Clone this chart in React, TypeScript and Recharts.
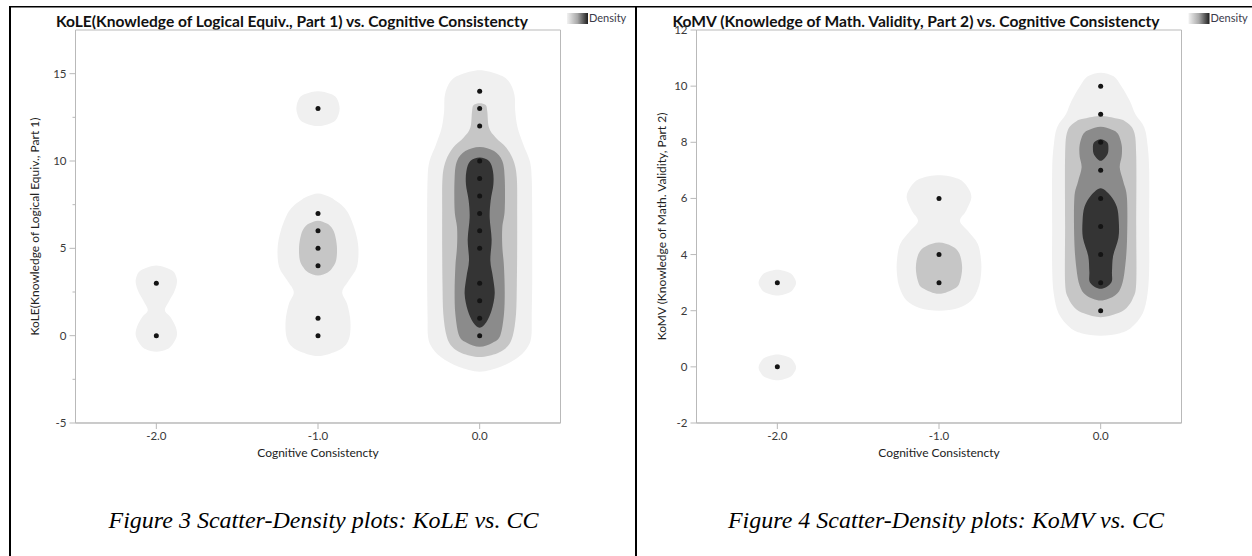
import React from "react";
import { ScatterChart, Scatter, XAxis, YAxis, ReferenceArea } from "recharts";

// cognitive consistency values on the x axis
const ccTicks = [-2, -1, 0];

// KoLE (part 1) scores seen at each CC value
const koleAtCcMinus2 = [3, 0];
const koleAtCcMinus1 = [13, 7, 6, 5, 4, 1, 0];
const koleAtCc0 = [14, 13, 12, 10, 9, 8, 7, 6, 5, 3, 2, 1, 0];

// KoMV (part 2) scores seen at each CC value
const komvAtCcMinus2 = [3, 0];
const komvAtCcMinus1 = [6, 4, 3];
const komvAtCc0 = [10, 9, 8, 7, 6, 5, 4, 3, 2];

const koleTicks = [-5, -2.5, 0, 2.5, 5, 7.5, 10, 12.5, 15];
const komvTicks = [-2, 0, 2, 4, 6, 8, 10, 12];

// density contours: [score, half width in CC units], top to bottom
const koleM2Outer = [[4.02, 0], [3.75, 0.095], [3.4, 0.122], [3.0, 0.127], [2.5, 0.11], [2.0, 0.08], [1.45, 0.053], [1.05, 0.088], [0.5, 0.12], [0, 0.127], [-0.5, 0.1], [-0.78, 0.065], [-0.92, 0]];
const koleM1Top = [[14.0, 0], [13.85, 0.075], [13.6, 0.115], [13.0, 0.134], [12.4, 0.115], [12.15, 0.075], [12.0, 0]];
const koleM1Outer = [[8.14, 0], [7.95, 0.07], [7.72, 0.11], [7.4, 0.155], [6.96, 0.19], [6.0, 0.23], [5.0, 0.25], [3.92, 0.24], [3.16, 0.19], [2.5, 0.15], [1.83, 0.18], [0.88, 0.2], [-0.07, 0.195], [-0.64, 0.16], [-0.95, 0.1], [-1.17, 0]];
const koleM1Mid = [[6.58, 0], [6.42, 0.055], [6.2, 0.083], [5.8, 0.104], [5.1, 0.117], [4.35, 0.113], [3.9, 0.09], [3.62, 0.06], [3.45, 0]];
const kole0Outer = [[15.2, 0], [14.94, 0.12], [14.56, 0.18], [13.8, 0.215], [12.85, 0.22], [11.9, 0.235], [10.95, 0.27], [10.0, 0.31], [9.0, 0.322], [7, 0.325], [5, 0.325], [3, 0.325], [1, 0.322], [0, 0.32], [-0.6, 0.3], [-1.22, 0.24], [-1.78, 0.13], [-2.06, 0]];
const kole0Mid = [[13.3, 0], [13.2, 0.037], [12.85, 0.047], [11.9, 0.058], [11.33, 0.1], [10.76, 0.165], [10.0, 0.21], [9.0, 0.23], [7, 0.232], [5, 0.232], [3, 0.23], [1.26, 0.225], [0, 0.205], [-0.64, 0.17], [-1.0, 0.11], [-1.22, 0]];
const kole0High = [[10.8, 0], [10.57, 0.089], [10.0, 0.14], [9.0, 0.155], [7.2, 0.155], [6.2, 0.14], [5.1, 0.14], [4.0, 0.15], [2.5, 0.155], [1.2, 0.15], [0, 0.127], [-0.4, 0.08], [-0.64, 0]];
const kole0Peak = [[10.2, 0], [10.0, 0.058], [9.43, 0.082], [8.67, 0.085], [7.72, 0.068], [6.77, 0.062], [5.5, 0.074], [4.3, 0.066], [3.35, 0.082], [2.4, 0.093], [1.45, 0.074], [0.75, 0.04], [0.45, 0]];

const komvM2Upper = [[3.46, 0], [3.35, 0.075], [3.2, 0.102], [3.0, 0.116], [2.8, 0.102], [2.65, 0.075], [2.54, 0]];
const komvM2Lower = [[0.44, 0], [0.33, 0.075], [0.18, 0.102], [-0.02, 0.116], [-0.22, 0.102], [-0.37, 0.075], [-0.48, 0]];
const komvM1Outer = [[6.83, 0], [6.7, 0.12], [6.39, 0.178], [6.03, 0.2], [5.56, 0.168], [5.2, 0.13], [4.85, 0.178], [4.38, 0.24], [3.8, 0.26], [3.3, 0.26], [2.83, 0.244], [2.36, 0.2], [2.1, 0.12], [2.0, 0]];
const komvM1Mid = [[4.43, 0], [4.3, 0.08], [4.05, 0.125], [3.55, 0.143], [3.05, 0.13], [2.8, 0.1], [2.6, 0]];
const komv0Outer = [[10.48, 0], [10.35, 0.08], [10.0, 0.128], [9.48, 0.18], [9.0, 0.215], [8.53, 0.27], [7.9, 0.29], [7, 0.3], [5, 0.3], [3.5, 0.3], [2.6, 0.29], [1.9, 0.26], [1.4, 0.19], [1.2, 0.12], [1.11, 0]];
const komv0Mid = [[8.94, 0], [8.85, 0.1], [8.75, 0.15], [8.4, 0.205], [7.5, 0.22], [5, 0.22], [3, 0.22], [2.45, 0.2], [2.1, 0.16], [1.9, 0.1], [1.77, 0]];
const komv0High = [[8.55, 0], [8.45, 0.07], [8.3, 0.107], [7.9, 0.13], [7.5, 0.13], [7.1, 0.118], [6.6, 0.14], [6.0, 0.163], [4.5, 0.163], [3.5, 0.15], [2.9, 0.13], [2.55, 0.09], [2.36, 0]];
const komv0PeakUpper = [[8.11, 0], [8.0, 0.04], [7.8, 0.048], [7.55, 0.04], [7.34, 0]];
const komv0PeakLower = [[6.36, 0], [6.1, 0.06], [5.7, 0.1], [5.2, 0.112], [4.6, 0.11], [3.95, 0.077], [3.4, 0.07], [3.0, 0.065], [2.78, 0]];

const densityShades = ["#f0f0f0", "#c6c6c6", "#8b8b8b", "#343434"];

type Contour = { cc: number; level: number; profile: number[][] };

const koleContours: Contour[] = [
  { cc: -2, level: 0, profile: koleM2Outer },
  { cc: -1, level: 0, profile: koleM1Top },
  { cc: -1, level: 0, profile: koleM1Outer },
  { cc: -1, level: 1, profile: koleM1Mid },
  { cc: 0, level: 0, profile: kole0Outer },
  { cc: 0, level: 1, profile: kole0Mid },
  { cc: 0, level: 2, profile: kole0High },
  { cc: 0, level: 3, profile: kole0Peak },
];

const komvContours: Contour[] = [
  { cc: -2, level: 0, profile: komvM2Upper },
  { cc: -2, level: 0, profile: komvM2Lower },
  { cc: -1, level: 0, profile: komvM1Outer },
  { cc: -1, level: 1, profile: komvM1Mid },
  { cc: 0, level: 0, profile: komv0Outer },
  { cc: 0, level: 1, profile: komv0Mid },
  { cc: 0, level: 2, profile: komv0High },
  { cc: 0, level: 3, profile: komv0PeakUpper },
  { cc: 0, level: 3, profile: komv0PeakLower },
];

const toPoints = (cc: number, ys: number[]) => ys.map((y) => ({ x: cc, y }));

const kolePoints = [
  ...toPoints(-2, koleAtCcMinus2),
  ...toPoints(-1, koleAtCcMinus1),
  ...toPoints(0, koleAtCc0),
];
const komvPoints = [
  ...toPoints(-2, komvAtCcMinus2),
  ...toPoints(-1, komvAtCcMinus1),
  ...toPoints(0, komvAtCc0),
];

// right side going down, then left side going back up
const outline = (cc: number, profile: number[][]) => {
  const right = profile.map(([y, w]) => ({ x: cc + w, y }));
  const left = profile
    .slice(1, -1)
    .reverse()
    .map(([y, w]) => ({ x: cc - w, y }));
  return [...right, ...left];
};

// closed catmull-rom through the projected outline points
const smoothClosedPath = (pts: { x: number; y: number }[]) => {
  const n = pts.length;
  if (!n) return "";
  let d = `M${pts[0].x},${pts[0].y}`;
  for (let i = 0; i < n; i++) {
    const p0 = pts[(i - 1 + n) % n];
    const p1 = pts[i];
    const p2 = pts[(i + 1) % n];
    const p3 = pts[(i + 2) % n];
    const c1x = p1.x + (p2.x - p0.x) / 6;
    const c1y = p1.y + (p2.y - p0.y) / 6;
    const c2x = p2.x - (p3.x - p1.x) / 6;
    const c2y = p2.y - (p3.y - p1.y) / 6;
    d += ` C${c1x},${c1y} ${c2x},${c2y} ${p2.x},${p2.y}`;
  }
  return d + "Z";
};

const renderBlob = (fill: string) => (props: any) =>
  <path d={smoothClosedPath(props.points || [])} fill={fill} stroke="none" />;

const hiddenShape = () => <g />;

const renderDot = (props: any) => (
  <circle cx={props.cx} cy={props.cy} r={2.5} fill="#141414" />
);

const AXIS_GREY = "#b9b9b9";
const UI_FONT = "Lato, 'Noto Sans', sans-serif";

const YTick = (props: any) => {
  const { x, y, payload, majorStep } = props;
  const v = payload.value;
  const major = Math.abs(v % majorStep) < 1e-9;
  return (
    <g>
      <line x1={x + (major ? 3 : 6)} x2={x + 9} y1={y} y2={y} stroke={AXIS_GREY} />
      {major && (
        <text x={x} y={y} dy="0.35em" textAnchor="end" fontSize={11.5} fontFamily={UI_FONT} fill="#3a3a3a">
          {v}
        </text>
      )}
    </g>
  );
};

const XTitle = (props: any) => {
  const vb = props.viewBox || { x: 75.5, y: 423, width: 485 };
  return (
    <text x={vb.x + vb.width / 2} y={vb.y + 34} textAnchor="middle" fontSize={12} fontFamily={UI_FONT} fill="#222">
      Cognitive Consistencty
    </text>
  );
};

const YTitle = (props: any) => {
  const vb = props.viewBox || { x: 20, y: 30, height: 393 };
  const cx = vb.x + props.dx;
  const cy = vb.y + vb.height / 2;
  return (
    <text x={cx} y={cy} transform={`rotate(-90 ${cx} ${cy})`} textAnchor="middle" fontSize={12} fontFamily={UI_FONT} fill="#222">
      {props.text}
    </text>
  );
};

type PanelProps = {
  contours: Contour[];
  points: { x: number; y: number }[];
  yDomain: [number, number];
  yTicks: number[];
  majorStep: number;
  yTitle: string;
  titleDx: number;
};

const Panel = ({ contours, points, yDomain, yTicks, majorStep, yTitle, titleDx }: PanelProps) => (
  <ScatterChart width={636} height={470} margin={{ top: 30, right: 75.5, bottom: 7, left: 20 }}>
    <XAxis
      type="number"
      dataKey="x"
      domain={[-2.5, 0.5]}
      ticks={ccTicks}
      allowDataOverflow
      tickFormatter={(v: number) => v.toFixed(1)}
      tickSize={6}
      tickMargin={3}
      height={40}
      stroke={AXIS_GREY}
      tick={{ fill: "#3a3a3a", fontSize: 11.5, fontFamily: UI_FONT }}
      label={{ content: (p: any) => <XTitle {...p} /> }}
    />
    <YAxis
      type="number"
      dataKey="y"
      domain={yDomain}
      ticks={yTicks}
      interval={0}
      allowDataOverflow
      width={55.5}
      tickSize={6}
      tickMargin={3}
      tickLine={false}
      stroke={AXIS_GREY}
      tick={(p: any) => <YTick {...p} majorStep={majorStep} />}
      label={{ content: (p: any) => <YTitle {...p} text={yTitle} dx={titleDx} /> }}
    />
    <ReferenceArea x1={-2.5} x2={0.5} y1={yDomain[0]} y2={yDomain[1]} fill="none" stroke={AXIS_GREY} />
    {contours.map((c, i) => (
      <Scatter
        key={`contour-${i}`}
        data={outline(c.cc, c.profile)}
        isAnimationActive={false}
        line={renderBlob(densityShades[c.level])}
        lineType="joint"
        shape={hiddenShape}
      />
    ))}
    <Scatter data={points} isAnimationActive={false} shape={renderDot} />
  </ScatterChart>
);

const DensityKey = ({ x, gid }: { x: number; gid: string }) => (
  <g>
    <rect x={x} y={13} width={21} height={11} fill={`url(#${gid})`} />
    <text x={x + 22} y={22} fontSize={11} fontFamily={UI_FONT} fill="#3a3a4a">
      Density
    </text>
  </g>
);

const CAPTION_FONT = "'Liberation Serif', 'Times New Roman', serif";

export default function App() {
  return (
    <div style={{ position: "relative", width: 1252, height: 556, background: "#fff", overflow: "hidden" }}>
      <style>{"body{margin:0}"}</style>
      <svg width={1252} height={556} style={{ position: "absolute", left: 0, top: 0 }}>
        <defs>
          <linearGradient id="densA" x1="0" x2="1" y1="0" y2="0">
            <stop offset="0" stopColor="#f2f2f2" />
            <stop offset="0.5" stopColor="#a8a8a8" />
            <stop offset="1" stopColor="#1e1e1e" />
          </linearGradient>
          <linearGradient id="densB" x1="0" x2="1" y1="0" y2="0">
            <stop offset="0" stopColor="#f2f2f2" />
            <stop offset="0.5" stopColor="#a8a8a8" />
            <stop offset="1" stopColor="#1e1e1e" />
          </linearGradient>
        </defs>
        {/* table borders around the two figures */}
        <rect x={9} y={6} width={1243} height={1.5} fill="#000" />
        <rect x={9} y={6} width={2} height={550} fill="#000" />
        <rect x={635} y={6} width={2} height={550} fill="#000" />

        <text x={56} y={26.5} fontSize={14.5} fontWeight="bold" fontFamily={UI_FONT} fill="#111" textLength={472} lengthAdjust="spacingAndGlyphs">
          KoLE(Knowledge of Logical Equiv., Part 1) vs. Cognitive Consistencty
        </text>
        <text x={672.5} y={26.5} fontSize={14.5} fontWeight="bold" fontFamily={UI_FONT} fill="#111" textLength={487} lengthAdjust="spacingAndGlyphs">
          KoMV (Knowledge of Math. Validity, Part 2) vs. Cognitive Consistencty
        </text>
        <DensityKey x={567} gid="densA" />
        <DensityKey x={1188.5} gid="densB" />

        <text x={323.5} y={527.5} textAnchor="middle" fontSize={24} fontStyle="italic" fontFamily={CAPTION_FONT} fill="#000">
          Figure 3 Scatter-Density plots: KoLE vs. CC
        </text>
        <text x={946} y={527.5} textAnchor="middle" fontSize={24} fontStyle="italic" fontFamily={CAPTION_FONT} fill="#000">
          Figure 4 Scatter-Density plots: KoMV vs. CC
        </text>
      </svg>
      <div style={{ position: "absolute", left: 0, top: 0 }}>
        <Panel
          contours={koleContours}
          points={kolePoints}
          yDomain={[-5, 17.5]}
          yTicks={koleTicks}
          majorStep={5}
          yTitle="KoLE(Knowledge of Logical Equiv., Part 1)"
          titleDx={18.5}
        />
      </div>
      <div style={{ position: "absolute", left: 621, top: 0 }}>
        <Panel
          contours={komvContours}
          points={komvPoints}
          yDomain={[-2, 12]}
          yTicks={komvTicks}
          majorStep={2}
          yTitle="KoMV (Knowledge of Math. Validity, Part 2)"
          titleDx={24.5}
        />
      </div>
    </div>
  );
}
